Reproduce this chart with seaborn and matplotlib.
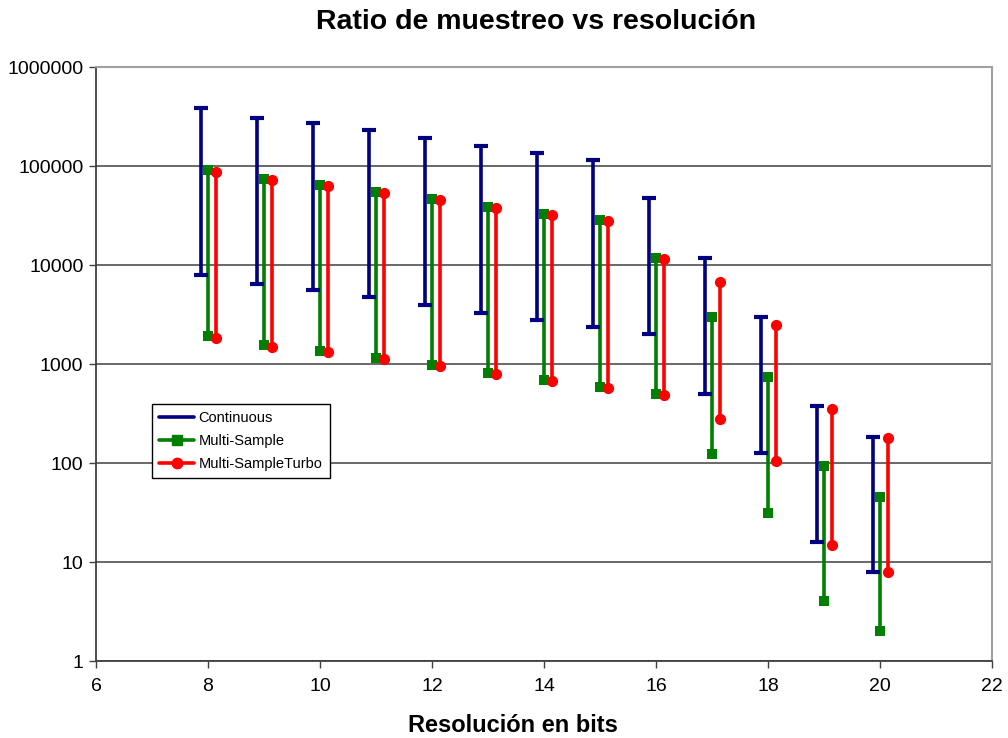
import numpy as np
import pandas as pd
import matplotlib
matplotlib.use("Agg")
import matplotlib.pyplot as plt
import seaborn as sns
from matplotlib.lines import Line2D
from matplotlib.ticker import FuncFormatter, LogLocator, NullLocator

bits = [8, 9, 10, 11, 12, 13, 14, 15, 16, 17, 18, 19, 20]
cont_max = [385000, 305000, 272000, 231000, 192000, 159000, 135000, 115000, 47500, 11800, 2990, 377, 183]
cont_min = [7900, 6430, 5590, 4750, 3950, 3270, 2780, 2360, 2010, 498, 126, 15.9, 7.9]
ms_max = [91000, 74000, 64300, 54600, 46400, 38500, 32700, 28500, 11800, 2990, 740, 93, 45]
ms_min = [1920, 1560, 1350, 1150, 977, 811, 689, 586, 498, 123, 31, 4.0, 2.0]
turbo_max = [87000, 72000, 62800, 53300, 45300, 37700, 32000, 27800, 11500, 6730, 2480, 351, 179]
turbo_min = [1830, 1490, 1320, 1120, 955, 792, 673, 573, 487, 278, 105, 14.9, 7.9]

series_names = ["Continuous", "Multi-Sample", "Multi-SampleTurbo"]
colors = {"Continuous": "#000080", "Multi-Sample": "#008000", "Multi-SampleTurbo": "#FF0000"}
offsets = {"Continuous": -0.13, "Multi-Sample": 0.0, "Multi-SampleTurbo": 0.14}
ranges = {"Continuous": (cont_min, cont_max),
          "Multi-Sample": (ms_min, ms_max),
          "Multi-SampleTurbo": (turbo_min, turbo_max)}

rows = []
for name in series_names:
    lo, hi = ranges[name]
    for b, l, h in zip(bits, lo, hi):
        rows.append({"series": name, "bits": b, "x": b + offsets[name], "value": l, "end": "min"})
        rows.append({"series": name, "bits": b, "x": b + offsets[name], "value": h, "end": "max"})
df = pd.DataFrame(rows)

sns.set_style("white")
plt.rcParams["font.family"] = ["Liberation Sans", "DejaVu Sans"]
plt.rcParams["text.color"] = "black"
plt.rcParams["axes.labelcolor"] = "black"
plt.rcParams["xtick.color"] = "black"
plt.rcParams["ytick.color"] = "black"

fig = plt.figure(figsize=(10.08, 7.38), dpi=100)
ax = fig.add_axes([0.0952, 0.1043, 0.8889, 0.8049])
ax.set_yscale("log")

for name in series_names:
    sub = df[df["series"] == name]
    sns.lineplot(data=sub, x="x", y="value", units="bits", estimator=None, sort=False,
                 color=colors[name], linewidth=2.6, ax=ax, legend=False, zorder=3)

cont = df[df["series"] == "Continuous"]
sns.scatterplot(data=cont, x="x", y="value", marker="_", s=110, linewidth=3,
                color=colors["Continuous"], ax=ax, legend=False, zorder=4)
ms = df[df["series"] == "Multi-Sample"]
sns.scatterplot(data=ms, x="x", y="value", marker="s", s=55, linewidth=0,
                color=colors["Multi-Sample"], ax=ax, legend=False, zorder=4)
tb = df[df["series"] == "Multi-SampleTurbo"]
sns.scatterplot(data=tb, x="x", y="value", marker="o", s=65, linewidth=0,
                color=colors["Multi-SampleTurbo"], ax=ax, legend=False, zorder=4)

ax.set_xlim(6, 22)
ax.set_ylim(1, 1000000)
ax.set_xticks(range(6, 23, 2))
ax.yaxis.set_major_locator(LogLocator(base=10, numticks=10))
ax.yaxis.set_minor_locator(NullLocator())
ax.yaxis.set_major_formatter(FuncFormatter(lambda v, p: f"{int(round(v))}"))
ax.grid(axis="y", which="major", color="#404040", linewidth=1.1, zorder=0)
ax.set_axisbelow(True)

ax.tick_params(axis="both", which="major", direction="out", length=5, width=1,
               color="#404040", labelcolor="black", labelsize=14, pad=4, left=True, bottom=True)
ax.tick_params(axis="x", pad=7)
for s in ["left", "bottom"]:
    ax.spines[s].set_color("#404040")
    ax.spines[s].set_linewidth(1.3)
for s in ["top", "right"]:
    ax.spines[s].set_color("#a0a0a0")
    ax.spines[s].set_linewidth(1.5)

ax.set_xlabel("Resolución en bits", fontsize=17, fontweight="bold", color="black")
ax.xaxis.set_label_coords(0.465, -0.09)
ax.set_ylabel("")
fig.text(0.532, 0.970, "Ratio de muestreo vs resolución", fontsize=20.5, fontweight="bold",
         ha="center", va="center", color="black")

handles = [
    Line2D([0], [0], color=colors["Continuous"], linewidth=2.6),
    Line2D([0], [0], color=colors["Multi-Sample"], linewidth=2.6, marker="s", markersize=7),
    Line2D([0], [0], color=colors["Multi-SampleTurbo"], linewidth=2.6, marker="o", markersize=7.5),
]
leg = ax.legend(handles, series_names, loc="lower left", bbox_to_anchor=(0.0625, 0.308),
                borderaxespad=0, fontsize=10.5, frameon=True, fancybox=False,
                edgecolor="black", framealpha=1, handlelength=2.4, labelspacing=0.6,
                borderpad=0.5, handletextpad=0.3)
leg.get_frame().set_linewidth(1.0)

fig.savefig("out.png", dpi=100, facecolor="white")
